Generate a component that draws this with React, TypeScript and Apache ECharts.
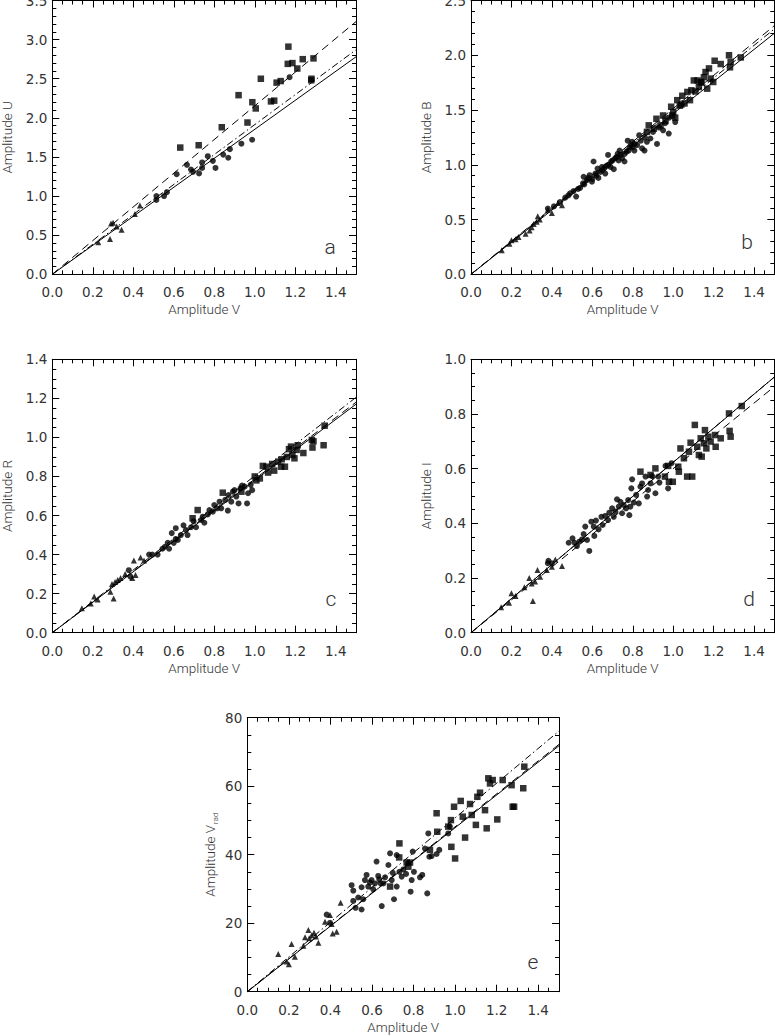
import React, { useEffect, useRef } from "react";
import * as echarts from "echarts";

// ---------- data ----------
// Panel a: Amplitude U vs Amplitude V
const aTri = [[0.227,0.41],[0.285,0.45],[0.29,0.65],[0.30,0.66],[0.318,0.61],[0.342,0.57],[0.408,0.77],[0.433,0.88]];
const aCirc = [[0.514,0.95],[0.514,1.0],[0.552,1.0],[0.566,1.05],[0.614,1.28],[0.665,1.40],[0.685,1.34],[0.695,1.31],[0.725,1.29],[0.74,1.36],[0.74,1.43],[0.768,1.51],[0.793,1.45],[0.806,1.36],[0.844,1.53],[0.869,1.49],[0.877,1.60],[0.934,1.67],[0.987,1.72],[1.172,2.52]];
const aSq = [[0.632,1.62],[0.723,1.65],[0.837,1.88],[0.92,2.29],[0.964,1.94],[0.988,2.20],[1.005,2.12],[1.03,2.50],[1.08,2.21],[1.096,2.22],[1.108,2.45],[1.128,2.47],[1.163,2.69],[1.166,2.91],[1.186,2.70],[1.21,2.63],[1.237,2.75],[1.279,2.48],[1.28,2.50],[1.29,2.76]];
const aFitEnds = [2.78, 3.23, 2.87]; // solid, dashed, dash-dot at V = 1.5

// Panel b: Amplitude B
const bTri = [[0.152,0.22],[0.19,0.28],[0.20,0.31],[0.22,0.32],[0.235,0.34],[0.27,0.37],[0.29,0.40],[0.30,0.43],[0.31,0.46],[0.325,0.48],[0.33,0.53],[0.34,0.50],[0.38,0.59],[0.40,0.56],[0.43,0.65],[0.45,0.63]];
const bCirc = [[0.38,0.60],[0.41,0.62],[0.44,0.66],[0.466,0.70],[0.482,0.72],[0.49,0.74],[0.507,0.76],[0.52,0.71],[0.53,0.78],[0.54,0.79],[0.554,0.83],[0.557,0.89],[0.56,0.82],[0.573,0.86],[0.58,0.88],[0.587,0.905],[0.598,0.845],[0.60,0.87],[0.606,1.03],[0.615,0.92],[0.62,0.90],[0.626,0.966],[0.63,0.88],[0.64,0.935],[0.648,0.98],[0.65,0.95],[0.66,0.97],[0.664,0.92],[0.67,0.99],[0.678,1.09],[0.681,1.0],[0.69,0.98],[0.693,1.03],[0.70,1.04],[0.706,0.96],[0.714,1.06],[0.72,1.07],[0.725,1.10],[0.73,1.04],[0.735,1.13],[0.74,1.09],[0.747,1.06],[0.759,1.03],[0.76,1.10],[0.769,1.12],[0.775,1.22],[0.78,1.13],[0.785,1.16],[0.79,1.18],[0.797,1.21],[0.80,1.16],[0.808,1.13],[0.81,1.19],[0.822,1.18],[0.832,1.27],[0.84,1.22],[0.846,1.15],[0.858,1.13],[0.86,1.25],[0.87,1.21],[0.887,1.24],[0.90,1.30],[0.92,1.19],[0.93,1.34],[0.95,1.315],[0.96,1.38],[0.978,1.285],[0.98,1.43],[1.01,1.39]];
const bSq = [[0.87,1.30],[0.879,1.36],[0.904,1.33],[0.917,1.42],[0.937,1.36],[0.95,1.45],[0.962,1.40],[0.99,1.53],[0.995,1.45],[1.0,1.48],[1.01,1.43],[1.02,1.59],[1.033,1.54],[1.04,1.55],[1.045,1.63],[1.056,1.56],[1.07,1.665],[1.083,1.59],[1.09,1.68],[1.102,1.77],[1.11,1.67],[1.12,1.77],[1.127,1.71],[1.136,1.756],[1.14,1.75],[1.152,1.80],[1.16,1.847],[1.168,1.695],[1.177,1.88],[1.185,1.787],[1.198,1.756],[1.205,1.95],[1.235,1.92],[1.276,2.0],[1.281,1.89],[1.284,1.94],[1.334,1.98]];
const bFitEnds = [2.20, 2.27, 2.24];

// Panel c: Amplitude R
const cTri = [[0.146,0.125],[0.19,0.15],[0.207,0.185],[0.224,0.17],[0.287,0.21],[0.295,0.25],[0.303,0.175],[0.31,0.26],[0.323,0.27],[0.337,0.28],[0.36,0.30],[0.395,0.28],[0.403,0.37],[0.411,0.295],[0.436,0.385],[0.453,0.37]];
const cCirc = [[0.378,0.32],[0.386,0.287],[0.478,0.40],[0.494,0.40],[0.52,0.40],[0.544,0.43],[0.556,0.44],[0.57,0.46],[0.577,0.43],[0.59,0.51],[0.60,0.46],[0.61,0.48],[0.61,0.535],[0.62,0.475],[0.635,0.50],[0.648,0.55],[0.66,0.526],[0.668,0.50],[0.685,0.54],[0.698,0.57],[0.71,0.54],[0.735,0.577],[0.743,0.594],[0.751,0.563],[0.768,0.606],[0.776,0.628],[0.793,0.62],[0.80,0.654],[0.814,0.637],[0.826,0.671],[0.834,0.637],[0.854,0.68],[0.867,0.625],[0.87,0.705],[0.884,0.671],[0.892,0.722],[0.90,0.73],[0.909,0.697],[0.92,0.662],[0.93,0.74],[0.937,0.753],[0.95,0.748],[0.962,0.662],[0.967,0.714],[0.98,0.757],[0.987,0.73]];
const cSq = [[0.693,0.586],[0.718,0.628],[0.842,0.717],[0.934,0.722],[1.0,0.80],[1.008,0.78],[1.025,0.79],[1.04,0.854],[1.058,0.85],[1.066,0.82],[1.086,0.864],[1.096,0.83],[1.116,0.876],[1.13,0.85],[1.133,0.888],[1.149,0.85],[1.158,0.90],[1.169,0.94],[1.179,0.953],[1.186,0.91],[1.196,0.893],[1.207,0.936],[1.212,0.96],[1.24,0.92],[1.282,0.987],[1.285,0.948],[1.29,0.98],[1.34,0.96],[1.345,1.06]];
const cFitEnds = [1.17, 1.18, 1.205];

// Panel d: Amplitude I
const dTri = [[0.149,0.093],[0.188,0.11],[0.20,0.144],[0.22,0.134],[0.264,0.166],[0.288,0.20],[0.30,0.18],[0.306,0.116],[0.317,0.187],[0.329,0.229],[0.342,0.205],[0.375,0.229],[0.40,0.241],[0.417,0.268],[0.45,0.244]];
const dCirc = [[0.38,0.254],[0.383,0.263],[0.40,0.254],[0.483,0.329],[0.502,0.345],[0.512,0.329],[0.524,0.317],[0.536,0.333],[0.549,0.341],[0.557,0.361],[0.565,0.388],[0.574,0.339],[0.585,0.299],[0.595,0.406],[0.607,0.388],[0.61,0.354],[0.618,0.41],[0.631,0.378],[0.645,0.424],[0.651,0.394],[0.664,0.427],[0.678,0.412],[0.684,0.439],[0.698,0.455],[0.706,0.424],[0.714,0.443],[0.722,0.488],[0.731,0.461],[0.739,0.479],[0.747,0.437],[0.755,0.467],[0.767,0.455],[0.777,0.485],[0.783,0.43],[0.788,0.461],[0.793,0.528],[0.797,0.561],[0.805,0.476],[0.817,0.504],[0.83,0.473],[0.838,0.534],[0.846,0.546],[0.863,0.571],[0.871,0.498],[0.876,0.522],[0.888,0.546],[0.896,0.573],[0.912,0.51],[0.926,0.571],[0.932,0.549],[0.962,0.61],[0.975,0.528],[0.992,0.62]];
const dSq = [[0.838,0.589],[0.888,0.577],[0.912,0.601],[0.959,0.571],[0.975,0.61],[0.979,0.552],[0.998,0.552],[1.025,0.607],[1.028,0.589],[1.036,0.674],[1.053,0.638],[1.069,0.571],[1.078,0.662],[1.086,0.695],[1.094,0.571],[1.107,0.76],[1.119,0.68],[1.127,0.65],[1.136,0.711],[1.141,0.644],[1.152,0.693],[1.157,0.741],[1.164,0.674],[1.174,0.717],[1.185,0.699],[1.207,0.723],[1.21,0.68],[1.235,0.711],[1.276,0.802],[1.279,0.738],[1.284,0.717],[1.339,0.829]];
const dFitEnds = [0.935, 0.90, 0.935];

// Panel e: Amplitude V_rad
const eTri = [[0.149,11.0],[0.189,8.8],[0.20,8.0],[0.213,13.9],[0.229,10.2],[0.27,13.4],[0.278,15.9],[0.294,18.0],[0.298,15.6],[0.31,16.5],[0.321,17.2],[0.33,16.1],[0.342,14.3],[0.374,20.4],[0.398,22.4],[0.406,19.8],[0.411,17.0],[0.43,17.5],[0.449,26.0]];
const eCirc = [[0.382,22.5],[0.398,20.1],[0.502,31.1],[0.51,29.5],[0.51,26.5],[0.521,24.5],[0.534,27.5],[0.55,30.5],[0.55,24.0],[0.558,27.0],[0.566,32.6],[0.574,34.1],[0.582,30.7],[0.59,31.9],[0.598,32.6],[0.606,29.9],[0.614,31.6],[0.622,38.0],[0.63,33.8],[0.635,32.8],[0.642,31.6],[0.647,25.0],[0.655,31.6],[0.663,33.4],[0.679,37.0],[0.687,40.4],[0.695,32.6],[0.70,34.7],[0.706,27.0],[0.719,30.7],[0.719,39.9],[0.732,35.0],[0.743,33.6],[0.751,35.7],[0.764,34.4],[0.775,37.5],[0.786,29.2],[0.791,32.6],[0.796,40.9],[0.802,35.0],[0.831,33.4],[0.842,34.1],[0.855,41.8],[0.866,28.7],[0.871,46.2],[0.876,39.4],[0.887,39.6],[0.911,40.2],[0.924,41.4],[0.967,46.2],[0.975,48.2]];
const eSq = [[0.687,30.7],[0.731,39.2],[0.732,43.3],[0.767,37.7],[0.775,36.5],[0.783,37.7],[0.879,41.4],[0.911,52.1],[0.914,46.7],[0.967,48.2],[0.98,50.1],[0.982,42.3],[0.995,54.0],[1.0,38.9],[1.027,55.7],[1.037,51.1],[1.048,45.0],[1.072,54.8],[1.08,51.6],[1.10,48.7],[1.107,56.9],[1.12,58.1],[1.144,53.0],[1.152,47.7],[1.16,62.3],[1.168,60.8],[1.181,61.8],[1.203,50.3],[1.229,61.8],[1.272,60.3],[1.277,54.0],[1.284,54.0],[1.328,59.4],[1.333,65.7]];
const eFitEnds = [71.8, 72.2, 76.1];

const X_MAX = 1.5;
const xTickLabels = ["0.0", "0.2", "0.4", "0.6", "0.8", "1.0", "1.2", "1.4"];

// ---------- styling / layout ----------
const INK = "#000";
const TXT = "#333";
const FONT_NUM = "'DejaVu Sans', sans-serif";
const FONT_NAME = "Roboto, 'DejaVu Sans', sans-serif";
const NUM_SIZE = 13.5;
const NAME_SIZE = 13.5;
const NAME_WEIGHT = 300;

const panels = [
  { letter: "a", yName: "Amplitude U", yMax: 3.5, yInt: 0.5, yMinor: 5, dec: 1, tri: aTri, circ: aCirc, sq: aSq, fit: aFitEnds, box: [52.3, 0.5, 303.7, 273.8], lpos: [330, 247], nameGap: 38 },
  { letter: "b", yName: "Amplitude B", yMax: 2.5, yInt: 0.5, yMinor: 5, dec: 1, tri: bTri, circ: bCirc, sq: bSq, fit: bFitEnds, box: [471, 0.5, 303.3, 273.8], lpos: [747, 242], nameGap: 38 },
  { letter: "c", yName: "Amplitude R", yMax: 1.4, yInt: 0.2, yMinor: 4, dec: 1, tri: cTri, circ: cCirc, sq: cSq, fit: cFitEnds, box: [52.3, 359.3, 303.7, 273.4], lpos: [331, 599], nameGap: 38 },
  { letter: "d", yName: "Amplitude I", yMax: 1.0, yInt: 0.2, yMinor: 4, dec: 1, tri: dTri, circ: dCirc, sq: dSq, fit: dFitEnds, box: [471, 359.3, 303.3, 273.4], lpos: [749, 599], nameGap: 38 },
  { letter: "e", yName: "{n|Amplitude V}{s|rad}", yMax: 80, yInt: 20, yMinor: 4, dec: 0, tri: eTri, circ: eCirc, sq: eSq, fit: eFitEnds, box: [247.3, 717.7, 311.7, 274], lpos: [533, 962], nameGap: 28 },
];

function buildOption() {
  const grid: any[] = [];
  const xAxis: any[] = [];
  const yAxis: any[] = [];
  const series: any[] = [];
  const graphic: any[] = [];

  panels.forEach((p, i) => {
    grid.push({ left: p.box[0], top: p.box[1], width: p.box[2], height: p.box[3], containLabel: false, outerBoundsMode: "none" });
    const xBase = { type: "value", gridIndex: i, min: 0, max: X_MAX, splitLine: { show: false } };
    const line = { show: true, onZero: false, lineStyle: { color: INK, width: 1 } };
    const noLine = { show: false, onZero: false };
    const majTick = { show: true, inside: true, length: 7, lineStyle: { color: INK, width: 1 } };
    const minTick = { show: true, inside: true, length: 4, lineStyle: { color: INK, width: 1 } };
    xAxis.push({
      ...xBase, position: "bottom", interval: 0.2, axisLine: line, axisTick: majTick,
      axisLabel: {
        show: true, margin: 11, fontFamily: FONT_NUM, fontSize: NUM_SIZE, color: TXT,
        formatter: (v: number) => { const k = Math.round(v / 0.2); return Math.abs(v - k * 0.2) < 1e-6 && k < xTickLabels.length ? xTickLabels[k] : ""; },
      },
      name: "Amplitude V", nameLocation: "middle", nameGap: 28,
      nameTextStyle: { fontFamily: FONT_NAME, fontSize: NAME_SIZE, fontWeight: NAME_WEIGHT, color: TXT },
    });
    xAxis.push({ ...xBase, position: "bottom", interval: 0.05, axisLine: noLine, axisTick: minTick, axisLabel: { show: false } });
    xAxis.push({ ...xBase, position: "top", interval: 0.2, axisLine: line, axisTick: majTick, axisLabel: { show: false } });
    xAxis.push({ ...xBase, position: "top", interval: 0.05, axisLine: noLine, axisTick: minTick, axisLabel: { show: false } });

    const yBase = {
      type: "value", gridIndex: i, min: 0, max: p.yMax, interval: p.yInt, splitLine: { show: false },
      axisLine: line, axisTick: majTick,
      minorTick: { show: true, splitNumber: p.yMinor, length: 4, lineStyle: { color: INK, width: 1 } },
    };
    const nameRich = {
      n: { fontFamily: FONT_NAME, fontSize: NAME_SIZE, fontWeight: NAME_WEIGHT, color: TXT, lineHeight: 16, verticalAlign: "top" },
      s: { fontFamily: FONT_NAME, fontSize: 8, fontWeight: NAME_WEIGHT, color: TXT, lineHeight: 8, padding: [12, 0, 0, 1], verticalAlign: "bottom" },
    };
    yAxis.push({
      ...yBase, position: "left",
      axisLabel: { show: true, margin: 5, fontFamily: FONT_NUM, fontSize: NUM_SIZE, color: TXT, formatter: (v: number) => v.toFixed(p.dec) },
      name: p.yName, nameLocation: "middle", nameGap: p.nameGap,
      nameTextStyle: { fontFamily: FONT_NAME, fontSize: NAME_SIZE, fontWeight: NAME_WEIGHT, color: TXT, rich: nameRich },
    });
    yAxis.push({ ...yBase, position: "right", axisLabel: { show: false } });

    const xi = 4 * i, yi = 2 * i;
    const sc = (data: number[][], symbol: string, size: number) => ({
      type: "scatter", xAxisIndex: xi, yAxisIndex: yi, data, symbol, symbolSize: size,
      itemStyle: { color: INK }, silent: true, z: 3,
    });
    series.push(sc(p.tri, "triangle", 6));
    series.push(sc(p.circ, "circle", 6));
    series.push(sc(p.sq, "rect", 6.5));
    const styles: any[] = ["solid", [8, 5], [7, 3, 1.5, 3]];
    p.fit.forEach((end, k) => {
      series.push({
        type: "line", xAxisIndex: xi, yAxisIndex: yi, data: [[0, 0], [X_MAX, end]],
        symbol: "none", showSymbol: false, silent: true, z: 2,
        lineStyle: { color: INK, width: 1, type: styles[k] },
      });
    });

    graphic.push({
      type: "text", x: p.lpos[0], y: p.lpos[1],
      style: { text: p.letter, fontSize: 21, fontFamily: FONT_NAME, fontWeight: NAME_WEIGHT, fill: TXT, align: "center", verticalAlign: "middle", textAlign: "center", textVerticalAlign: "middle" },
    });
  });

  return { animation: false, backgroundColor: "#fff", grid, xAxis, yAxis, series, graphic };
}

export default function App() {
  const ref = useRef<HTMLDivElement>(null);
  useEffect(() => {
    if (!ref.current) return;
    const chart = echarts.init(ref.current, undefined, { renderer: "svg" });
    chart.setOption(buildOption() as any);
    return () => chart.dispose();
  }, []);
  return (
    <div
      ref={ref}
      style={{ position: "absolute", left: 0, top: 0, width: 775, height: 1036, background: "#fff" }}
    />
  );
}
